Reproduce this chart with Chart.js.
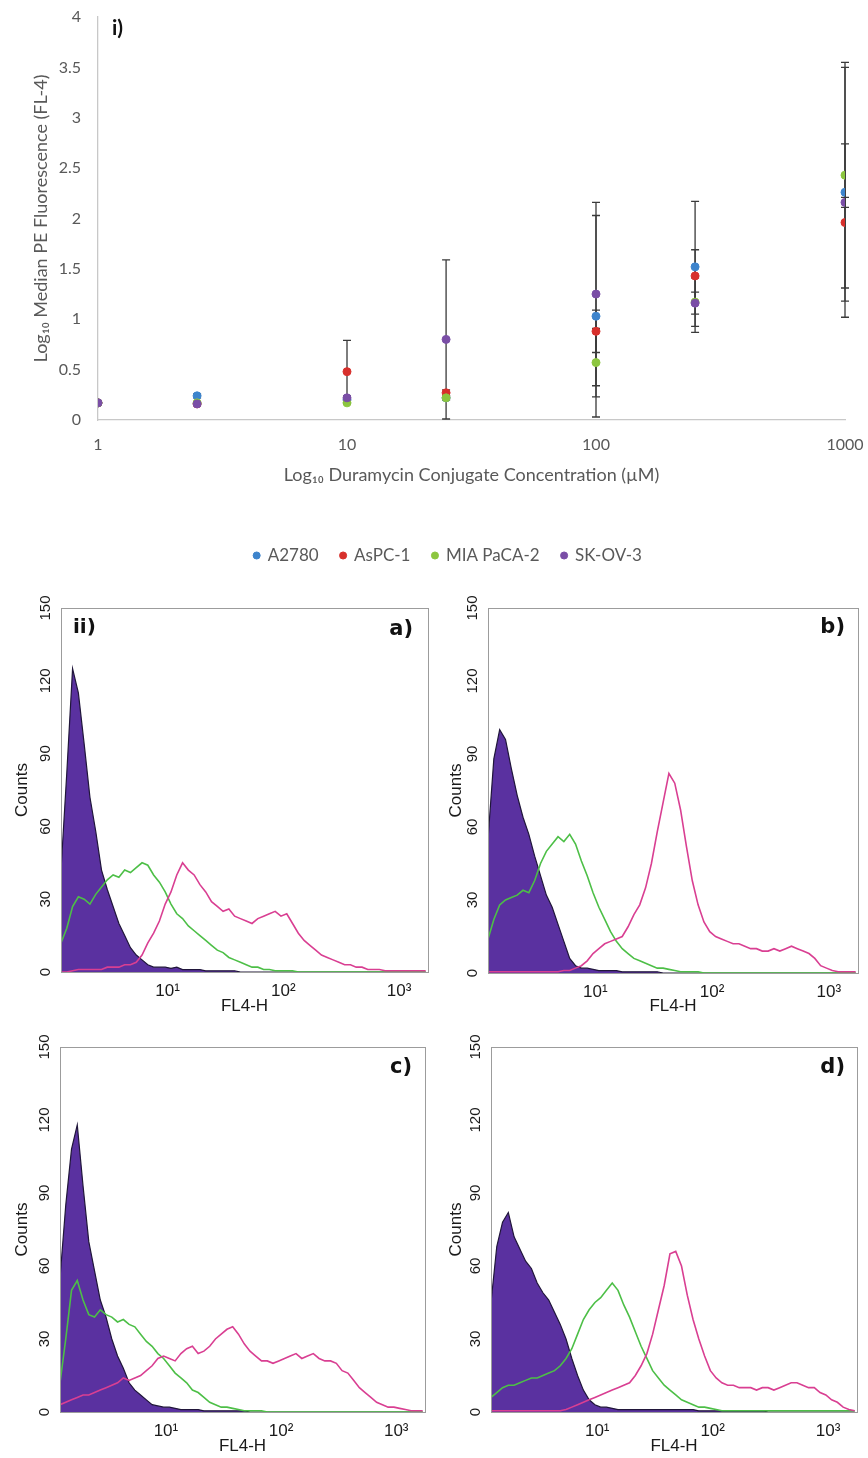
<!DOCTYPE html>
<html lang="en">
<head>
<meta charset="UTF-8">
<title>Duramycin conjugate binding - median fluorescence and FL4 histograms</title>
<script src="https://cdn.jsdelivr.net/npm/chart.js@4.4.1/dist/chart.umd.min.js"></script>
<style>
  html, body { margin: 0; padding: 0; background: #fff; }
  body { width: 868px; height: 1458px; position: relative; overflow: hidden; }
  canvas { position: absolute; }
</style>
</head>
<body>
<canvas id="doseChart" width="868" height="500" style="left:0px;top:0px"></canvas>
<canvas id="doseLegend" width="800" height="80" style="left:48px;top:525px"></canvas>
<canvas id="histA" width="434" height="440" style="left:0px;top:585px"></canvas>
<canvas id="histB" width="434" height="440" style="left:434px;top:585px"></canvas>
<canvas id="histC" width="434" height="440" style="left:0px;top:1025px"></canvas>
<canvas id="histD" width="434" height="440" style="left:434px;top:1025px"></canvas>

<script>
// ---------- i) median PE fluorescence vs duramycin conjugate ----------
var concentrations = [1, 2.5, 10, 25, 100, 250, 1000];
var concTicks = [1, 10, 100, 1000];
var cellLines = ['A2780', 'AsPC-1', 'MIA PaCA-2', 'SK-OV-3'];
var cellColors = ['#3d84cc', '#d7302c', '#8cc63f', '#7a4ea6'];

var a2780     = [0.17, 0.24, 0.20, 0.22, 1.03, 1.52, 2.26];
var a2780Err  = [0.00, 0.02, 0.02, 0.02, 1.00, 0.65, 1.24];
var aspc1     = [0.17, 0.16, 0.48, 0.27, 0.88, 1.43, 1.96];
var aspc1Err  = [0.00, 0.01, 0.31, 0.03, 0.21, 0.26, 0.78];
var miaPaca2  = [0.17, 0.17, 0.17, 0.22, 0.57, 1.17, 2.43];
var miaPacaErr= [0.00, 0.01, 0.01, 0.02, 0.34, 0.24, 1.12];
var skov3     = [0.17, 0.16, 0.22, 0.80, 1.25, 1.16, 2.16];
var skov3Err  = [0.00, 0.01, 0.02, 0.79, 0.91, 0.11, 0.05];

// ---------- ii) FL4-H histograms (log10 of channel, counts) ----------
var fl4Exp = [
  0.08, 0.13, 0.18, 0.23, 0.28, 0.33, 0.38, 0.43, 0.48, 0.53, 0.58, 0.63, 0.68, 0.73, 0.78, 0.83,
  0.88, 0.93, 0.98, 1.03, 1.08, 1.13, 1.18, 1.23, 1.28, 1.33, 1.38, 1.43, 1.48, 1.53, 1.58, 1.63,
  1.68, 1.73, 1.78, 1.83, 1.88, 1.93, 1.98, 2.03, 2.08, 2.13, 2.18, 2.23, 2.28, 2.33, 2.38, 2.43,
  2.48, 2.53, 2.58, 2.63, 2.68, 2.73, 2.78, 2.83, 2.88, 2.93, 2.98, 3.03, 3.08, 3.13, 3.18, 3.23
];
var fl4Ticks = [10, 100, 1000];
var fl4TickLabels = ['10\u00b9', '10\u00b2', '10\u00b3'];

// a)
var unstainedA = [
  42, 82, 125, 115, 94, 72, 58, 42, 34, 27, 20, 15, 10, 7, 5, 3,
  2, 2, 2, 1.5, 2, 1, 1, 1, 1, 0.5, 0.5, 0.5, 0.5, 0.5, 0.5, 0,
  0, 0, 0, 0, 0, 0, 0, 0, 0, 0, 0, 0, 0, 0, 0, 0,
  0, 0, 0, 0, 0, 0, 0, 0, 0, 0, 0, 0, 0, 0, 0, 0
];
var greenA = [
  12, 18, 27, 31, 30, 28, 32, 35, 38, 40, 39, 42, 41, 43, 45, 44,
  40, 37, 33, 28, 24, 22, 19, 17, 15, 13, 11, 9, 8, 6, 5, 4,
  3, 2, 2, 1, 1, 0.5, 0.5, 0.5, 0.5, 0, 0, 0, 0, 0, 0, 0,
  0, 0, 0, 0, 0, 0, 0, 0, 0, 0, 0, 0, 0, 0, 0, 0
];
var magentaA = [
  0, 0, 0.5, 1, 1, 1, 1, 1, 2, 2, 2, 3, 3, 4, 7, 12,
  16, 21, 28, 33, 40, 45, 42, 40, 36, 33, 29, 27, 25, 26, 23, 22,
  21, 20, 22, 23, 24, 25, 23, 24, 20, 16, 13, 11, 9, 7, 6, 5,
  4, 3, 3, 2, 2, 1, 1, 1, 0.5, 0.5, 0.5, 0.5, 0.5, 0.5, 0.5, 0.5
];
// b)
var unstainedB = [
  55, 88, 100, 96, 84, 73, 64, 57, 48, 40, 32, 27, 20, 13, 6, 3,
  2, 2, 1.5, 1, 1, 1, 1, 0.5, 0.5, 0.5, 0.5, 0.5, 0.5, 0.5, 0, 0,
  0, 0, 0, 0, 0, 0, 0, 0, 0, 0, 0, 0, 0, 0, 0, 0,
  0, 0, 0, 0, 0, 0, 0, 0, 0, 0, 0, 0, 0, 0, 0, 0
];
var greenB = [
  14, 22, 28, 30, 31, 32, 34, 33, 38, 45, 50, 53, 56, 54, 57, 53,
  46, 40, 33, 27, 22, 17, 13, 10, 8, 6, 5, 4, 3, 2, 2, 1.5,
  1, 0.5, 0.5, 0.5, 0.5, 0, 0, 0, 0, 0, 0, 0, 0, 0, 0, 0,
  0, 0, 0, 0, 0, 0, 0, 0, 0, 0, 0, 0, 0, 0, 0, 0
];
var magentaB = [
  0.5, 0.5, 0.5, 0.5, 0.5, 0.5, 0.5, 0.5, 0.5, 0.5, 0.5, 0.5, 0.5, 1, 1, 2,
  3, 5, 8, 10, 12, 13, 14, 15, 19, 24, 28, 35, 45, 58, 70, 82,
  78, 67, 52, 38, 28, 21, 17, 15, 14, 13, 12, 12, 11, 10, 10, 9,
  9, 10, 9, 10, 11, 10, 9, 8, 6, 3, 2, 1, 0.5, 0.5, 0.5, 0.5
];
// c)
var unstainedC = [
  55, 85, 108, 118, 93, 70, 58, 46, 39, 30, 23, 18, 12, 9, 7, 5,
  3, 2.5, 2, 2, 1.5, 1, 1, 1, 1, 0.5, 0.5, 0.5, 0.5, 0.5, 0.5, 0.5,
  0.5, 0, 0, 0, 0, 0, 0, 0, 0, 0, 0, 0, 0, 0, 0, 0,
  0, 0, 0, 0, 0, 0, 0, 0, 0, 0, 0, 0, 0, 0, 0, 0
];
var greenC = [
  12, 30, 50, 54, 46, 40, 39, 42, 40, 39, 37, 38, 36, 35, 32, 29,
  27, 24, 22, 19, 16, 14, 12, 9, 8, 6, 4, 3, 2, 2, 1.5, 1,
  0.5, 0.5, 0.5, 0.5, 0, 0, 0, 0, 0, 0, 0, 0, 0, 0, 0, 0,
  0, 0, 0, 0, 0, 0, 0, 0, 0, 0, 0, 0, 0, 0, 0, 0
];
var magentaC = [
  3, 4, 5, 6, 7, 7, 8, 9, 10, 11, 12, 14, 13, 14, 15, 17,
  19, 22, 23, 22, 21, 24, 26, 27, 24, 25, 27, 30, 32, 34, 35, 32,
  28, 25, 23, 21, 21, 20, 21, 22, 23, 24, 22, 23, 24, 22, 21, 21,
  20, 17, 16, 13, 10, 8, 6, 4, 3, 2, 2, 1.5, 1, 0.5, 0.5, 0.5
];
// d)
var unstainedD = [
  45, 68, 78, 82, 72, 67, 62, 59, 53, 49, 46, 41, 36, 30, 22, 15,
  9, 5, 3, 2, 2, 1.5, 1, 1, 1, 1, 1, 1, 1, 1, 1, 1,
  1, 1, 1, 1, 0.5, 0.5, 0.5, 0.5, 0.5, 0.5, 0.5, 0.5, 0.5, 0.5, 0.5, 0.5,
  0, 0, 0, 0, 0, 0, 0, 0, 0, 0, 0, 0, 0, 0, 0, 0
];
var greenD = [
  6, 8, 10, 11, 11, 12, 13, 14, 14, 15, 16, 17, 19, 22, 26, 32,
  38, 42, 45, 47, 50, 53, 50, 44, 39, 33, 27, 22, 17, 14, 11, 9,
  7, 5, 4, 3, 2, 2, 1.5, 1, 0.5, 0.5, 0.5, 0.5, 0.5, 0.5, 0.5, 0.5,
  0.5, 0.5, 0.5, 0.5, 0.5, 0.5, 0.5, 0.5, 0.5, 0.5, 0.5, 0.5, 0.5, 0.5, 0.5, 0.5
];
var magentaD = [
  0.5, 0.5, 0.5, 0.5, 0.5, 0.5, 0.5, 0.5, 0.5, 0.5, 0.5, 0.5, 0.5, 1, 2, 3,
  4, 5, 6, 7, 8, 9, 10, 11, 12, 15, 19, 24, 32, 42, 52, 65,
  66, 60, 48, 38, 30, 23, 17, 14, 12, 11, 11, 10, 10, 10, 9, 10,
  10, 9, 10, 11, 12, 12, 11, 10, 10, 8, 7, 5, 4, 2, 1, 0.5
];

function toPoints(xs, ys) {
  return xs.map(function (x, i) { return { x: x, y: ys[i] }; });
}

// error bars drawn through the chart's own scales
var errorBars = {
  id: 'errorBars',
  beforeDatasetsDraw: function (chart) {
    var ctx = chart.ctx, xs = chart.scales.x, ys = chart.scales.y;
    ctx.save();
    ctx.strokeStyle = '#3a3a3a';
    ctx.lineWidth = 1.3;
    chart.data.datasets.forEach(function (ds) {
      ds.data.forEach(function (p, i) {
        var e = ds.errors[i];
        if (!e) return;
        var px = xs.getPixelForValue(p.x);
        var top = ys.getPixelForValue(p.y + e);
        var bot = ys.getPixelForValue(Math.max(p.y - e, 0));
        ctx.beginPath();
        ctx.moveTo(px, top); ctx.lineTo(px, bot);
        ctx.moveTo(px - 4, top); ctx.lineTo(px + 4, top);
        ctx.moveTo(px - 4, bot); ctx.lineTo(px + 4, bot);
        ctx.stroke();
      });
    });
    ctx.restore();
  }
};

// small bold panel tags like "i)", "a)"
var panelTags = {
  id: 'panelTags',
  afterDraw: function (chart, args, opts) {
    var ca = chart.chartArea, ctx = chart.ctx;
    ctx.save();
    (opts.items || []).forEach(function (t) {
      ctx.font = t.font;
      ctx.fillStyle = '#111';
      ctx.textAlign = t.align;
      ctx.textBaseline = 'middle';
      var x = t.align === 'right' ? ca.right - t.dx : ca.left + t.dx;
      ctx.fillText(t.text, x, ca.top + t.dy);
    });
    ctx.restore();
  }
};

// box round the histogram plot area
var plotFrame = {
  id: 'plotFrame',
  afterDatasetsDraw: function (chart) {
    var ca = chart.chartArea, ctx = chart.ctx;
    ctx.save();
    ctx.strokeStyle = '#9c9c9c';
    ctx.lineWidth = 1;
    ctx.strokeRect(ca.left + 0.5, ca.top + 0.5, ca.right - ca.left, ca.bottom - ca.top);
    ctx.restore();
  }
};

var excelFont = { family: 'Lato', size: 16 };
var excelTitleFont = { family: 'Lato', size: 18 };
var doseValues = [a2780, aspc1, miaPaca2, skov3];
var doseErrors = [a2780Err, aspc1Err, miaPacaErr, skov3Err];

new Chart(document.getElementById('doseChart'), {
  type: 'scatter',
  data: {
    datasets: cellLines.map(function (name, i) {
      return {
        label: name,
        data: toPoints(concentrations, doseValues[i]),
        errors: doseErrors[i],
        backgroundColor: cellColors[i],
        borderColor: cellColors[i],
        pointRadius: 4,
        pointBorderWidth: 1,
        order: 4 - i
      };
    })
  },
  options: {
    responsive: false,
    animation: false,
    layout: { padding: { left: 0, right: 23, top: 17, bottom: 0 } },
    plugins: {
      legend: { display: false },
      tooltip: { enabled: false },
      panelTags: { items: [{ text: 'i)', align: 'left', dx: 14, dy: 11, font: 'bold 21px Lato' }] }
    },
    scales: {
      x: {
        type: 'logarithmic', min: 1, max: 1000,
        afterBuildTicks: function (s) { s.ticks = concTicks.map(function (v) { return { value: v }; }); },
        afterFit: function (s) { s.height = 80; },
        grid: { display: true, color: 'rgba(0,0,0,0)', drawTicks: true, tickLength: 15, tickColor: 'rgba(0,0,0,0)' },
        border: { display: true, color: '#c8c8c8', width: 1.3 },
        ticks: { padding: 0, color: '#595959', font: excelFont, callback: function (v) { return String(v); } },
        title: { display: true, text: 'Log\u2081\u2080 Duramycin Conjugate Concentration (\u00b5M)',
                 color: '#595959', font: excelTitleFont, padding: { top: 0, bottom: 14 } }
      },
      y: {
        min: 0, max: 4,
        afterFit: function (s) { s.width = 98; },
        grid: { display: true, color: 'rgba(0,0,0,0)', drawTicks: true, tickLength: 17, tickColor: 'rgba(0,0,0,0)' },
        border: { display: true, color: '#c8c8c8', width: 1.3 },
        ticks: { stepSize: 0.5, padding: 0, color: '#595959', font: excelFont, callback: function (v) { return String(v); } },
        title: { display: true, text: 'Log\u2081\u2080 Median PE Fluorescence (FL-4)',
                 color: '#595959', font: excelTitleFont, padding: { top: 30, bottom: 0 } }
      }
    }
  },
  plugins: [errorBars, panelTags]
});

// legend row under panel i)
new Chart(document.getElementById('doseLegend'), {
  type: 'scatter',
  data: {
    datasets: cellLines.map(function (name, i) {
      return { label: name, data: [], backgroundColor: cellColors[i], borderColor: cellColors[i], pointStyle: 'circle' };
    })
  },
  options: {
    responsive: false,
    animation: false,
    layout: { padding: 0 },
    scales: { x: { display: false }, y: { display: false } },
    plugins: {
      tooltip: { enabled: false },
      legend: {
        position: 'top',
        labels: { usePointStyle: true, boxWidth: 5, boxHeight: 5, padding: 22, color: '#595959', font: { family: 'Lato', size: 17 } }
      }
    }
  }
});

var fl4Channels = fl4Exp.map(function (e) { return Math.pow(10, e); });
var facsFamily = '"Liberation Sans", Arial, sans-serif';

function makeHistogram(id, frame, unstained, green, magenta, tags) {
  new Chart(document.getElementById(id), {
    type: 'scatter',
    data: {
      datasets: [
        { label: 'Duramycin conjugate', data: toPoints(fl4Channels, magenta), showLine: true,
          borderColor: '#d93f92', borderWidth: 1.6, pointRadius: 0, order: 1 },
        { label: 'Control', data: toPoints(fl4Channels, green), showLine: true,
          borderColor: '#4dbf47', borderWidth: 1.6, pointRadius: 0, order: 2 },
        { label: 'Unstained', data: toPoints(fl4Channels, unstained), showLine: true, fill: 'origin',
          backgroundColor: '#5a31a0', borderColor: '#20163a', borderWidth: 1.2, pointRadius: 0, order: 3 }
      ]
    },
    options: {
      responsive: false,
      animation: false,
      layout: { padding: { left: 0, right: 434 - frame.right, top: frame.top, bottom: 0 } },
      plugins: {
        legend: { display: false },
        tooltip: { enabled: false },
        panelTags: { items: tags }
      },
      scales: {
        x: {
          type: 'logarithmic', min: Math.pow(10, 0.08), max: Math.pow(10, 3.25),
          afterBuildTicks: function (s) { s.ticks = fl4Ticks.map(function (v) { return { value: v }; }); },
          afterFit: function (s) { s.height = 440 - frame.bottom; },
          grid: { display: false },
          border: { display: false },
          ticks: { padding: 1, color: '#1a1a1a', font: { family: facsFamily, size: 17 },
                   callback: function (v) { return fl4TickLabels[fl4Ticks.indexOf(v)]; } },
          title: { display: true, text: 'FL4-H', color: '#1a1a1a', font: { family: facsFamily, size: 17 },
                   padding: { top: 0, bottom: 8 } }
        },
        y: {
          min: 0, max: 150,
          afterFit: function (s) { s.width = frame.left; },
          grid: { display: false },
          border: { display: false },
          ticks: { stepSize: 30, minRotation: 90, maxRotation: 90, crossAlign: 'center', padding: -5,
                   color: '#1a1a1a', font: { family: facsFamily, size: 15 } },
          title: { display: true, text: 'Counts', color: '#1a1a1a', font: { family: facsFamily, size: 17 },
                   padding: { top: 12, bottom: 0 } }
        }
      }
    },
    plugins: [plotFrame, panelTags]
  });
}

var tagFont = 'bold 21px "DejaVu Sans"';
makeHistogram('histA', { left: 61, right: 428, top: 23, bottom: 387 }, unstainedA, greenA, magentaA,
  [{ text: 'ii)', align: 'left', dx: 12, dy: 20, font: 'bold 20px "DejaVu Sans"' },
   { text: 'a)', align: 'right', dx: 15, dy: 22, font: tagFont }]);
makeHistogram('histB', { left: 54, right: 424, top: 23, bottom: 388 }, unstainedB, greenB, magentaB,
  [{ text: 'b)', align: 'right', dx: 13, dy: 20, font: tagFont }]);
makeHistogram('histC', { left: 60, right: 425, top: 22, bottom: 387 }, unstainedC, greenC, magentaC,
  [{ text: 'c)', align: 'right', dx: 13, dy: 21, font: tagFont }]);
makeHistogram('histD', { left: 57, right: 423, top: 22, bottom: 387 }, unstainedD, greenD, magentaD,
  [{ text: 'd)', align: 'right', dx: 12, dy: 21, font: tagFont }]);
</script>
</body>
</html>
